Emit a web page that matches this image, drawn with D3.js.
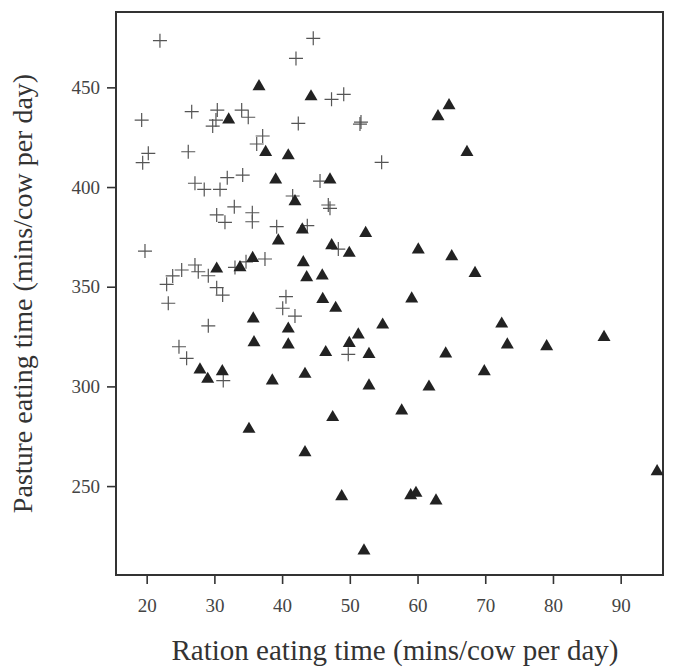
<!DOCTYPE html>
<html>
<head>
<meta charset="utf-8">
<script src="https://cdn.jsdelivr.net/npm/d3@7"></script>
<style>
  html, body { margin: 0; padding: 0; background: #fff; }
  svg { display: block; }
</style>
</head>
<body>
<svg id="chart" width="675" height="667"></svg>
<script>
// Group 1 (crosses): ration eating time (x) and pasture eating time (y)
const crossX = [21.96, 44.6, 42.05, 47.3, 49.1, 19.26, 26.65, 30.43, 30.23, 29.75,
  34.03, 35.0, 42.39, 51.65, 51.5, 20.24, 19.41, 26.14, 37.13, 36.25,
  27.13, 28.5, 30.83, 31.9, 34.18, 45.6, 54.7, 41.56, 46.82, 47.07,
  32.94, 30.34, 31.56, 35.6, 35.6, 39.2, 43.72, 48.3, 19.75, 37.47,
  34.67, 33.04, 25.17, 27.13, 27.62, 29.1, 23.84, 22.95, 30.34, 31.22,
  23.19, 40.57, 40.09, 41.9, 29.1, 24.77, 25.9, 31.31, 49.77];
const crossY = [473.4, 474.6, 464.5, 444.0, 446.5, 433.6, 437.8, 438.6, 433.6, 430.6,
  438.6, 435.0, 431.9, 432.6, 431.6, 416.9, 412.2, 417.7, 425.6, 421.6,
  401.9, 398.8, 398.8, 404.7, 406.0, 403.0, 412.4, 395.5, 391.0, 389.3,
  390.1, 386.0, 382.3, 387.1, 382.6, 380.1, 380.6, 368.9, 367.9, 363.9,
  362.5, 359.7, 358.4, 360.9, 357.5, 355.5, 355.4, 351.2, 349.5, 345.8,
  341.7, 345.0, 339.2, 335.3, 330.4, 319.9, 314.1, 302.9, 316.1];

// Group 2 (filled triangles)
const triX = [36.59, 44.27, 64.65, 63.02, 67.3, 32.11, 37.57, 40.91, 39.05, 47.07,
  41.9, 42.98, 52.34, 39.44, 47.32, 49.92, 60.11, 65.05, 68.49, 35.65,
  33.78, 30.34, 43.13, 43.63, 45.93, 46.0, 47.91, 59.14, 35.74, 35.85,
  40.91, 40.91, 54.85, 51.25, 49.92, 46.44, 52.83, 64.16, 72.43, 73.26,
  79.07, 87.54, 69.86, 43.38, 27.87, 29.01, 31.17, 38.55, 52.83, 61.69,
  47.47, 57.66, 35.11, 43.38, 95.38, 48.8, 58.99, 59.77, 62.73, 52.09];
const triY = [451.2, 446.1, 441.6, 436.1, 418.2, 434.5, 418.2, 416.5, 404.4, 404.4,
  393.5, 379.3, 377.6, 373.8, 371.4, 367.6, 369.3, 365.9, 357.5, 365.0,
  360.4, 359.7, 362.9, 355.4, 356.2, 344.5, 340.0, 344.7, 334.7, 322.8,
  329.6, 321.6, 331.6, 326.6, 322.4, 317.8, 316.9, 317.1, 332.1, 321.6,
  320.8, 325.4, 308.2, 306.9, 309.1, 304.4, 308.2, 303.6, 301.1, 300.5,
  285.2, 288.5, 279.3, 267.6, 258.1, 245.5, 246.0, 247.2, 243.4, 218.3];

const xTicks = [20, 30, 40, 50, 60, 70, 80, 90];
const yTicks = [250, 300, 350, 400, 450];
const xTitle = "Ration eating time (mins/cow per day)";
const yTitle = "Pasture eating time (mins/cow per day)";

const svg = d3.select("#chart");
const L = 116, R = 663, T = 12, B = 575;
const x = d3.scaleLinear().domain([15.47, 96.25]).range([L, R]);
const y = d3.scaleLinear().domain([205.4, 487.8]).range([B, T]);

const font = "'Liberation Serif', 'Times New Roman', serif";
const axisColor = "#333";

// X axis
const gx = svg.append("g").attr("transform", `translate(0,${B})`)
  .call(d3.axisBottom(x).tickValues(xTicks).tickSize(9).tickPadding(15).tickFormat(d3.format("d")));
gx.select(".domain").remove();
gx.selectAll(".tick line").attr("stroke", axisColor).attr("stroke-width", 1.6);
gx.selectAll(".tick text").attr("font-family", font).attr("font-size", 19).attr("fill", "#444");

// Y axis
const gy = svg.append("g").attr("transform", `translate(${L},0)`)
  .call(d3.axisLeft(y).tickValues(yTicks).tickSize(9).tickPadding(7).tickFormat(d3.format("d")));
gy.select(".domain").remove();
gy.selectAll(".tick line").attr("stroke", axisColor).attr("stroke-width", 1.6);
gy.selectAll(".tick text").attr("font-family", font).attr("font-size", 19).attr("fill", "#444");

// Frame
svg.append("rect").attr("x", L).attr("y", T).attr("width", R - L).attr("height", B - T)
  .attr("fill", "none").attr("stroke", axisColor).attr("stroke-width", 2);

// Crosses
const crosses = d3.range(crossX.length).map(i => ({ x: crossX[i], y: crossY[i] }));
const cs = 7;
svg.append("g").selectAll("path").data(crosses).join("path")
  .attr("d", d => {
    const cx = x(d.x), cy = y(d.y);
    return `M${cx - cs},${cy}H${cx + cs}M${cx},${cy - cs}V${cy + cs}`;
  })
  .attr("stroke", "#555").attr("stroke-width", 1.2).attr("fill", "none");

// Triangles
const tris = d3.range(triX.length).map(i => ({ x: triX[i], y: triY[i] }));
svg.append("g").selectAll("path").data(tris).join("path")
  .attr("d", d => {
    const cx = x(d.x), cy = y(d.y);
    return `M${cx},${cy - 6}L${cx + 6.5},${cy + 5.2}L${cx - 6.5},${cy + 5.2}Z`;
  })
  .attr("fill", "#222");

// Titles
svg.append("text").attr("x", 395).attr("y", 660)
  .attr("text-anchor", "middle").attr("font-family", font).attr("font-size", 29).attr("fill", "#333")
  .text(xTitle);
svg.append("text").attr("transform", `translate(32,${(T + B) / 2}) rotate(-90)`)
  .attr("text-anchor", "middle").attr("font-family", font).attr("font-size", 28).attr("fill", "#333")
  .text(yTitle);
</script>
</body>
</html>
